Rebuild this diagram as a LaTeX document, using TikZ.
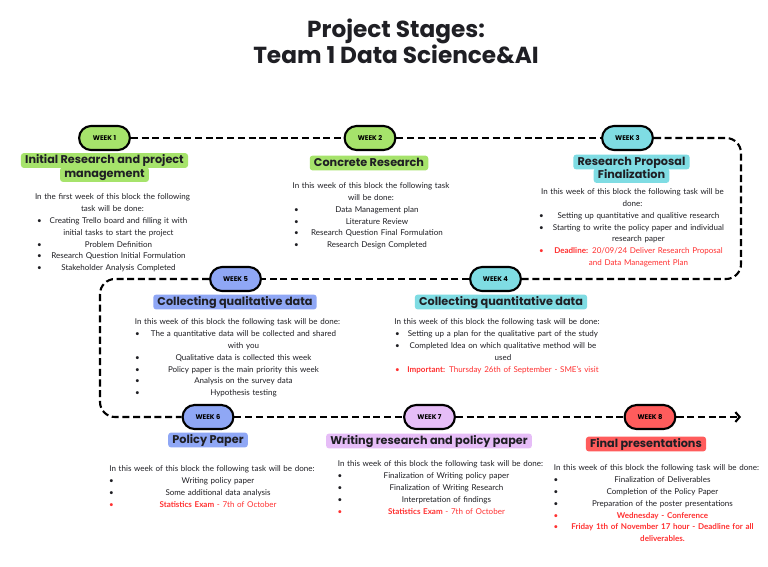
\documentclass[tikz,border=0pt]{standalone}
\usepackage{fontspec}
\setmainfont{Lato}
\newfontfamily\headfont{Poppins}
\usetikzlibrary{arrows.meta}

\definecolor{wkgreen}{HTML}{A6E36B}
\definecolor{wkteal}{HTML}{7FDCE3}
\definecolor{wkblue}{HTML}{8FA7F5}
\definecolor{wklilac}{HTML}{E6BDF7}
\definecolor{wkred}{HTML}{FF5C5C}
\definecolor{alert}{HTML}{FF3131}
\definecolor{ink}{HTML}{1F1F24}

\newcommand{\taskitem}[2][ink]{\par\noindent\makebox[8.5pt][l]{\hspace{1.6pt}\textcolor{#1}{\textbullet}}\parbox[t]{\dimexpr\linewidth-8.5pt\relax}{\centering\textcolor{#1}{#2}\strut}\par\prevdepth=\dp\strutbox}

\tikzset{
  week/.style={draw=black, line width=1.5pt, rounded corners=0.3cm, minimum width=1.27cm, minimum height=0.6cm, inner sep=0pt, font=\headfont\bfseries\fontsize{4.8}{5}\selectfont},
  stage/.style={rounded corners=2pt, inner xsep=3pt, inner ysep=1.4pt, text height=6pt, text depth=1.7pt, text=ink, font=\headfont\bfseries\fontsize{8}{9}\selectfont},
  tasks/.style={anchor=north, inner sep=0pt, text=ink, font=\fontsize{5.7}{8.5}\selectfont},
  route/.style={line width=1.5pt, dash pattern=on 5pt off 2.6pt}
}

\begin{document}
\begin{tikzpicture}[x=0.025cm, y=-0.025cm]
\path[fill=white, use as bounding box] (0,0) rectangle (768,566);

\node[anchor=north, align=center, text=ink, font=\headfont\bfseries\fontsize{16.5}{18.1}\selectfont] (title) at (396,14) {Project Stages:\\Team 1 Data Science\&AI};

\node[week, fill=wkgreen] (w1) at (104.5,138) {WEEK 1};
\node[week, fill=wkgreen] (w2) at (370,138) {WEEK 2};
\node[week, fill=wkteal] (w3) at (627.5,138) {WEEK 3};
\node[week, fill=wkteal] (w4) at (495.5,279) {WEEK 4};
\node[week, fill=wkblue] (w5) at (235.5,279) {WEEK 5};
\node[week, fill=wkblue] (w6) at (208,417) {WEEK 6};
\node[week, fill=wklilac] (w7) at (429.5,417) {WEEK 7};
\node[week, fill=wkred] (w8) at (650,417) {WEEK 8};

\coordinate (c1) at (741,138);
\coordinate (c2) at (741,279);
\coordinate (c3) at (100,279);
\coordinate (c4) at (100,417);
\coordinate (tip) at (741,417);

\draw[route] (w1) -- (w2);
\draw[route] (w2) -- (w3);
\draw[route, rounded corners=0.375cm] (w3.east) -- (c1) -- (c2) -- (w4.east);
\draw[route] (w4) -- (w5);
\draw[route, rounded corners=0.375cm] (w5.west) -- (c3) -- (c4) -- (w6.west);
\draw[route] (w6) -- (w7);
\draw[route] (w7) -- (w8);
\draw[route, -{Straight Barb[length=3pt,width=7pt]}] (w8) -- (tip);

\node[stage, fill=wkgreen] (h1a) at (104.5,160.5) {Initial Research and project};
\node[stage, fill=wkgreen] (h1b) at (104.5,174.5) {management};
\node[stage, fill=wkgreen] (h2) at (369,163) {Concrete Research};
\node[stage, fill=wkteal] (h3a) at (631.5,162) {Research Proposal};
\node[stage, fill=wkteal] (h3b) at (631.5,175.5) {Finalization};
\node[stage, fill=wkteal] (h4) at (501,302) {Collecting quantitative data};
\node[stage, fill=wkblue] (h5) at (235,302) {Collecting qualitative data};
\node[stage, fill=wkblue] (h6) at (208,440) {Policy Paper};
\node[stage, fill=wklilac] (h7) at (429,441) {Writing research and policy paper};
\node[stage, fill=wkred] (h8) at (646,444) {Final presentations};

\node[tasks, text width=3.875cm] (b1) at (112.5,193) {\centering
In the first week of this block the following\\task will be done:
\taskitem{Creating Trello board and filling it with\\initial tasks to start the project}
\taskitem{Problem Definition}
\taskitem{Research Question Initial Formulation}
\taskitem{Stakeholder Analysis Completed}};

\node[tasks, text width=3.95cm] (b2) at (371,182) {\centering
In this week of this block the following task\\will be done:
\taskitem{Data Management plan}
\taskitem{Literature Review}
\taskitem{Research Question Final Formulation}
\taskitem{Research Design Completed}};

\node[tasks, text width=4.775cm] (b3) at (632.5,188) {\centering
In this week of this block the following task will be\\done:
\taskitem{Setting up quantitative and qualitive research}
\taskitem{Starting to write the policy paper and individual\\research paper}
\taskitem[alert]{\textbf{Deadline:} 20/09/24 Deliver Research Proposal\\and Data Management Plan}};

\node[tasks, text width=5.2cm] (b4) at (497,318) {\centering
In this week of this block the following task will be done:
\taskitem{Setting up a plan for the qualitative part of the study}
\taskitem{Completed Idea on which qualitative method will be\\used}
\taskitem[alert]{\textbf{Important:} Thursday 26th of September - SME's visit}};

\node[tasks, text width=5.225cm] (b5) at (237.5,318) {\centering
In this week of this block the following task will be done:
\taskitem{The a quantitative data will be collected and shared\\with you}
\taskitem{Qualitative data is collected this week}
\taskitem{Policy paper is the main priority this week}
\taskitem{Analysis on the survey data}
\taskitem{Hypothesis testing}};

\node[tasks, text width=5.25cm] (b6) at (212,465) {\centering
In this week of this block the following task will be done:
\taskitem{Writing policy paper}
\taskitem{Some additional data analysis}
\taskitem[alert]{\textbf{Statistics Exam} - 7th of October}};

\node[tasks, text width=5.25cm] (b7) at (440.5,460) {\centering
In this week of this block the following task will be done:
\taskitem{Finalization of Writing policy paper}
\taskitem{Finalization of Writing Research}
\taskitem{Interpretation of findings}
\taskitem[alert]{\textbf{Statistics Exam} - 7th of October}};

\node[tasks, text width=5.25cm] (b8) at (656.5,464) {\centering
In this week of this block the following task will be done:
\taskitem{Finalization of Deliverables}
\taskitem{Completion of the Policy Paper}
\taskitem{Preparation of the poster presentations}
\taskitem[alert]{\textbf{Wednesday - Conference}}
\taskitem[alert]{\textbf{Friday 1th of November 17 hour - Deadline for all\\deliverables.}}};
\end{tikzpicture}
\end{document}
